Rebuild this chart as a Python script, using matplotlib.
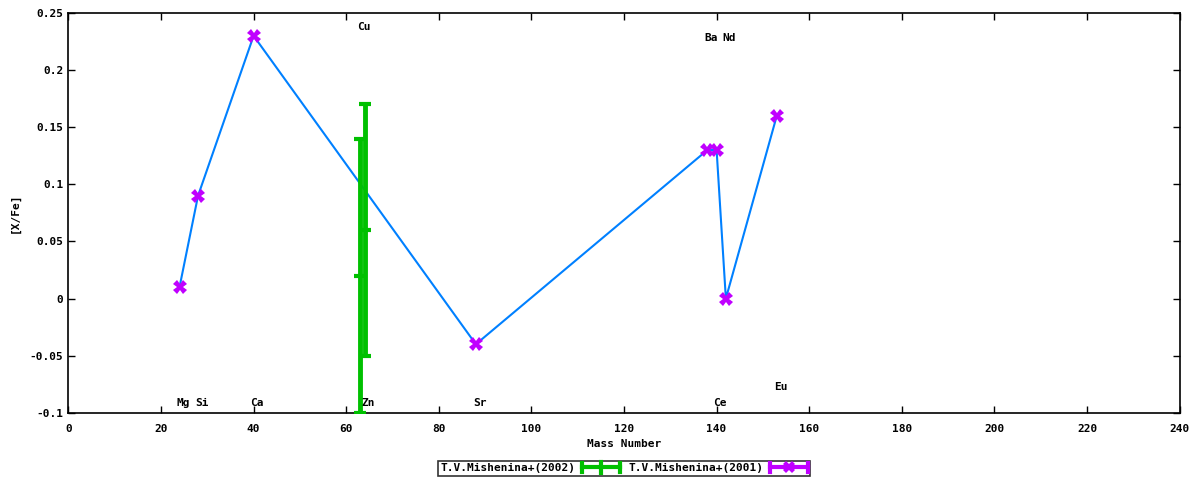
import matplotlib
matplotlib.use("Agg")
import matplotlib.pyplot as plt
from matplotlib.lines import Line2D
from matplotlib.legend_handler import HandlerBase

plt.rcParams['font.family'] = ['DejaVu Sans Mono']
plt.rcParams['font.weight'] = 'bold'
plt.rcParams['font.size'] = 8

# T.V.Mishenina+(2001): mass number, [X/Fe]
mass_2001 = [24, 28, 40, 88, 138, 140, 142, 153]
xfe_2001 = [0.01, 0.09, 0.23, -0.04, 0.13, 0.13, 0.0, 0.16]

# T.V.Mishenina+(2002): Cu, Zn with errors
mass_2002 = [63, 64]
xfe_2002 = [0.02, 0.06]
err_2002 = [0.12, 0.11]

# element labels
elem_names = ['Mg', 'Si', 'Ca', 'Cu', 'Zn', 'Sr', 'Ba', 'Ce', 'Nd', 'Eu']
elem_mass = [24, 28, 40, 63, 64, 88, 138, 140, 142, 153]
elem_label_y = [-0.091, -0.091, -0.091, 0.238, -0.091, -0.091, 0.228,
                -0.091, 0.228, -0.077]

xticks = list(range(0, 241, 20))
yticks = [-0.1, -0.05, 0, 0.05, 0.1, 0.15, 0.2, 0.25]
ytick_labels = ['-0.1', '-0.05', '0', '0.05', '0.1', '0.15', '0.2', '0.25']

green = '#00c000'
purple = '#c000ff'
blue = '#0080ff'


class GnuErrHandler(HandlerBase):
    # horizontal bar with end ticks, like gnuplot's key sample
    def __init__(self, color, marker):
        super().__init__()
        self.color = color
        self.marker = marker

    def create_artists(self, legend, orig_handle, xdescent, ydescent,
                       width, height, fontsize, trans):
        y = height / 2 - ydescent
        x0, x1 = -xdescent, width - xdescent
        arts = [Line2D([x0, x1], [y, y], color=self.color, lw=3)]
        for xx in (x0, x1):
            arts.append(Line2D([xx, xx], [y - 3.5, y + 3.5],
                               color=self.color, lw=3))
        if self.marker == '|':
            arts.append(Line2D([(x0 + x1) / 2] * 2, [y - 4, y + 4],
                               color=self.color, lw=3))
        else:
            arts.append(Line2D([(x0 + x1) / 2], [y], color=self.color,
                               marker='X', markersize=9, markeredgewidth=0))
        for a in arts:
            a.set_transform(trans)
        return arts


fig = plt.figure(figsize=(12, 4.8), dpi=100)
ax = fig.add_axes([0.057, 0.14, 0.926, 0.833])

eb2 = ax.errorbar(mass_2002, xfe_2002, yerr=err_2002, fmt='_', color=green,
                  ecolor=green, elinewidth=3.5, capsize=4, capthick=3,
                  markersize=9, markeredgewidth=3, zorder=3)

ax.plot(mass_2001, xfe_2001, color=blue, lw=1.5, zorder=2)
eb1 = ax.errorbar(mass_2001, xfe_2001, yerr=[0] * len(mass_2001), fmt='X',
                  color=purple, ecolor=purple, markersize=10,
                  markeredgewidth=0, capsize=4, zorder=4)

for name, m, ly in zip(elem_names, elem_mass, elem_label_y):
    ax.text(m + 0.8, ly, name, ha='center', va='center', fontsize=8,
            fontweight='bold')

ax.set_xlim(0, 240)
ax.set_ylim(-0.1, 0.25)
ax.set_xticks(xticks)
ax.set_xticklabels([str(t) for t in xticks])
ax.set_yticks(yticks)
ax.set_yticklabels(ytick_labels)
ax.tick_params(direction='in', top=True, right=True, length=5, width=1,
               labelsize=8)
ax.tick_params(axis='x', pad=8)
for s in ax.spines.values():
    s.set_linewidth(1.2)

ax.set_xlabel('Mass Number', fontsize=8, fontweight='bold', labelpad=4)
ax.set_ylabel('[X/Fe]', fontsize=8, fontweight='bold', labelpad=7)

leg = fig.legend([eb2, eb1], ['T.V.Mishenina+(2002)', 'T.V.Mishenina+(2001)'],
                 handler_map={eb2: GnuErrHandler(green, '|'),
                              eb1: GnuErrHandler(purple, 'X')},
                 loc='lower center', bbox_to_anchor=(0.52, 0.0), ncol=2,
                 frameon=True, fancybox=False, edgecolor='black',
                 fontsize=8, handlelength=3.4, handletextpad=0.6,
                 columnspacing=0.8, borderpad=0.2, borderaxespad=0.4,
                 markerfirst=False)
leg.get_frame().set_linewidth(1.2)

fig.savefig('out.png', dpi=100)
